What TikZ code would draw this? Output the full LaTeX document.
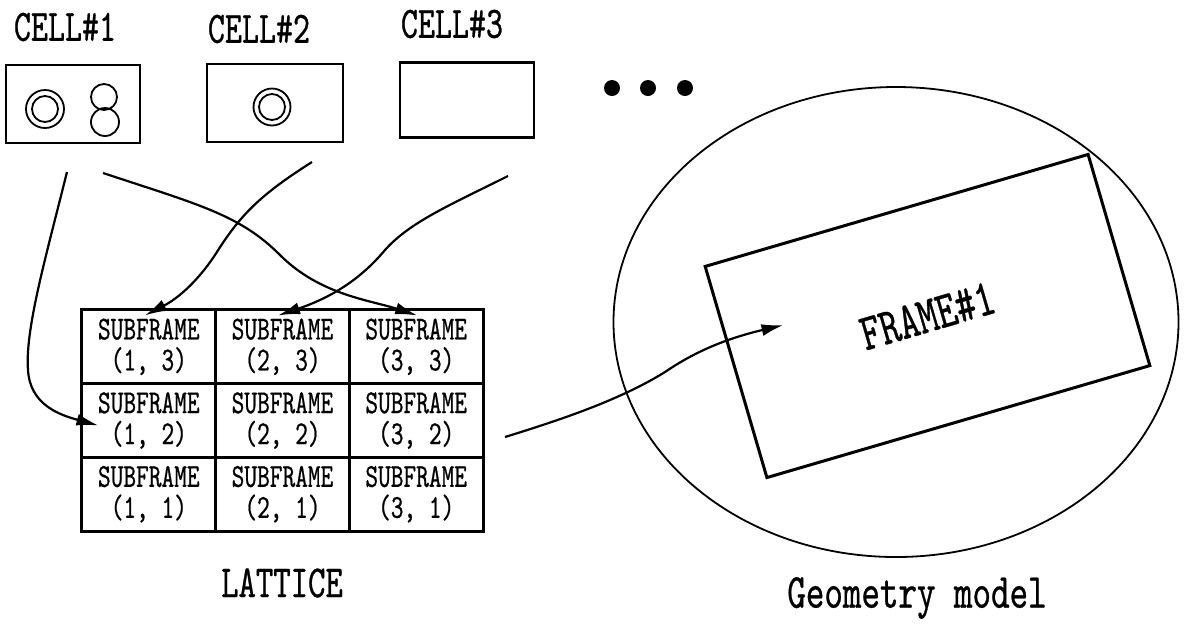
\documentclass[tikz,border=0pt]{standalone}
\usepackage{fontspec}
\newfontfamily\drawfont[FakeStretch=0.72,FakeBold=0.6]{lmmono10-regular.otf}
\usetikzlibrary{arrows.meta,calc,shapes.geometric}

\begin{document}
\begin{tikzpicture}[x=0.5pt,y=-0.5pt,
	every node/.style={font=\drawfont},
	cellbox/.style={draw,line width=1.4pt,minimum height=39pt,inner sep=0pt},
	subbox/.style={draw,line width=1.5pt,minimum width=66.85pt,minimum height=36.85pt,inner sep=0pt,align=center,font=\drawfont\fontsize{16.8}{15.5}\selectfont},
	celltext/.style={font=\drawfont\fontsize{22.5}{24}\selectfont},
	bigtext/.style={font=\drawfont\fontsize{23}{25}\selectfont},
	link/.style={line width=1.1pt,-{Latex[length=11pt,width=6pt]}}]
	\useasboundingbox (0,0) rectangle (1188,623);
	\node[cellbox,minimum width=67pt] (cellA) at (73,104) {};
	\node[cellbox,minimum width=68pt] (cellB) at (275,103) {};
	\node[cellbox,minimum width=67pt,minimum height=37.5pt] (cellC) at (467,100) {};
	\node[celltext] (labA) at (65,27) {CELL\#1};
	\node[celltext] (labB) at (259,29) {CELL\#2};
	\node[celltext] (labC) at (452,24) {CELL\#3};
	\draw[line width=0.9pt] (45,109) circle (19) (45,109) circle (13);
	\draw[line width=0.9pt] (104,97) circle (13) (105,122) circle (14);
	\draw[line width=0.9pt] (272,107) circle (18.5) (272,107) circle (13);
	\foreach \x in {612,648,685} \fill (\x,88) circle (8);
	\foreach \i/\x in {1/148.8,2/282.5,3/416.2}
		\foreach \j/\y in {3/346.8,2/420.5,1/494.2}
			\node[subbox] (sf\i\j) at (\x,\y) {SUBFRAME\\(\i, \j)};
	\node[draw,ellipse,line width=0.9pt,inner sep=0pt,minimum width=282.5pt,minimum height=235pt] (model) at (896,322) {};
	\node[draw,line width=1.5pt,rotate=16.3,minimum width=199.5pt,minimum height=110pt,font=\drawfont\fontsize{26}{28}\selectfont] (frame) at (927.5,316) {FRAME\#1};
	\node[bigtext] (latlabel) at (282,583) {LATTICE};
	\node[bigtext,font=\drawfont\fontsize{24.5}{26}\selectfont] (geolabel) at (917,598) {Geometry model};
	\coordinate (fromA1) at (67,172);
	\coordinate (fromA2) at (103,173);
	\coordinate (fromB) at (312,162);
	\coordinate (fromC) at (508,176);
	\coordinate (fromLat) at (505,437);
	\draw[link] (fromA1) .. controls (45,260) and (25,330) .. (28,370) .. controls (30,405) and (60,415) .. ($(sf12.west)+(18,5)$);
	\draw[link] (fromA2) .. controls (200,205) and (240,215) .. (280,255) .. controls (320,295) and (370,300) .. ($(sf33.north)+(1,7)$);
	\draw[link] (fromB) .. controls (260,195) and (240,215) .. (215,255) .. controls (195,285) and (175,300) .. ($(sf13.north)+(-4,7)$);
	\draw[link] (fromC) .. controls (450,205) and (410,222) .. (385,250) .. controls (360,280) and (330,298) .. ($(sf23.north)+(-4.5,7)$);
	\draw[link] (fromLat) .. controls (560,420) and (620,400) .. (665,372) .. controls (690,355) and (720,340) .. ($(frame.center)+(-144,9)$);
\end{tikzpicture}
\end{document}
